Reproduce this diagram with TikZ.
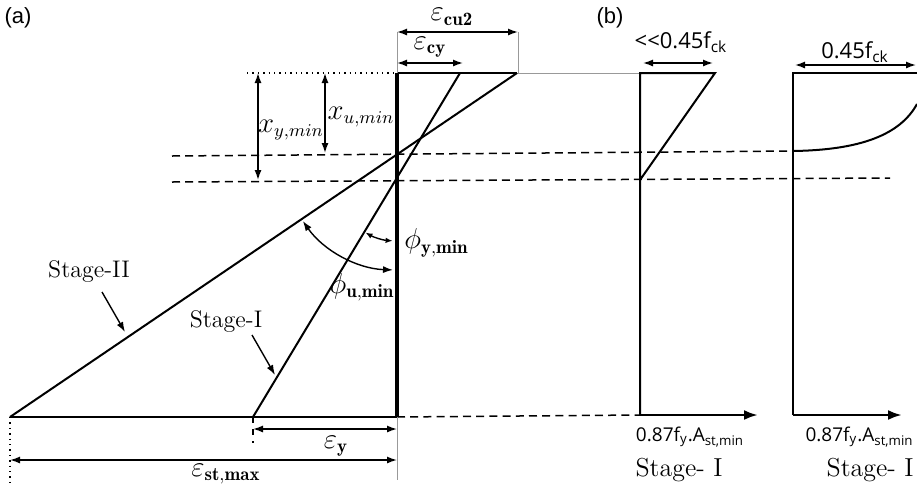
\documentclass[tikz,border=0pt]{standalone}
\usepackage{fontspec}
\newfontfamily\panelfont{Liberation Sans}
\newfontfamily\stressfont{Open Sans}
\usetikzlibrary{arrows.meta}

\begin{document}
\begin{tikzpicture}[
    x=0.5pt, y=0.5pt,
    section line/.style={
        draw=black,
        line width=1.6pt
    },
    strain line/.style={
        draw=black,
        line width=1pt
    },
    stress line/.style={
        draw=black,
        line width=1pt
    },
    dim arrow/.style={
        <->,
        >={Latex[length=5pt,width=3.5pt]},
        line width=0.7pt
    },
    small arrow/.style={
        <->,
        >={Latex[length=3.5pt,width=2.8pt]},
        line width=0.7pt
    },
    pointer/.style={
        ->,
        >={Latex[length=5pt,width=3.5pt]},
        line width=0.7pt
    },
    force arrow/.style={
        ->,
        >={Latex[length=7pt,width=5pt]},
        line width=1.3pt
    },
    extension/.style={
        draw=gray!80,
        line width=0.4pt
    },
    neutral axis/.style={
        dash pattern=on 4pt off 2.6pt,
        line width=0.75pt
    },
    strain label/.style={
        font=\fontsize{13.5}{15}\selectfont,
        inner sep=1pt
    },
    stage label/.style={
        font=\fontsize{12}{14}\selectfont,
        inner sep=1pt
    },
    stress label/.style={
        font=\stressfont\fontsize{11}{13}\selectfont,
        inner sep=1pt
    },
    force label/.style={
        font=\stressfont\fontsize{9.5}{11}\selectfont,
        inner sep=1pt
    },
    panel label/.style={
        font=\panelfont\fontsize{11}{13}\selectfont,
        inner sep=0pt
    }
]

\useasboundingbox (0,-489) rectangle (917,0);

%% --- Section (a): points ---
\coordinate (TopL)  at (247,-73);
\coordinate (T0)    at (397,-73);
\coordinate (B0)    at (397,-417);
\coordinate (TopI)  at (460,-73);
\coordinate (TopII) at (517,-73);
\coordinate (BotI)  at (253,-417);
\coordinate (BotII) at (10,-417);
\coordinate (NAu)   at (397,-155);
\coordinate (NAy)   at (397,-178);

%% --- Section (b): points ---
\coordinate (S1T)  at (640,-73);
\coordinate (S1R)  at (715,-73);
\coordinate (S1NA) at (640,-180);
\coordinate (S1B)  at (640,-415);
\coordinate (S1F)  at (758,-415);
\coordinate (S2T)  at (793,-73);
\coordinate (S2R)  at (917,-73);
\coordinate (S2NA) at (793,-151);
\coordinate (S2C)  at (917,-104);
\coordinate (S2B)  at (793,-415);
\coordinate (S2F)  at (902,-415);

%% --- Neutral axes ---
\coordinate (NAuL) at (172,-156);
\coordinate (NAyL) at (172,-182);
\coordinate (NAyR) at (890,-178);
\draw[neutral axis] (NAuL) -- (S2NA);
\draw[neutral axis] (NAyL) -- (NAyR);
\draw[neutral axis] (B0) -- (S1B);

%% --- Top fibre ---
\draw[dotted, line width=0.7pt] (TopL) -- (T0);
\draw[extension] (TopII) -- (S1R);

%% --- Strain profiles ---
\draw[strain line] (TopII) -- (BotII);
\draw[strain line] (TopI) -- (BotI);
\draw[strain line] (BotII) -- (B0);
\draw[strain line] (T0) -- (TopII);
\draw[section line] (T0) -- (B0);

%% --- Top strain dimensions ---
\coordinate (Ecu) at (518,-73);
\coordinate (EcuL) at (397,-32);
\coordinate (EcuR) at (518,-32);
\coordinate (EcyL) at (397,-63);
\coordinate (EcyR) at (463,-63);
\draw[extension] (EcuL) -- (T0);
\draw[extension] (EcuR) -- (Ecu);
\draw[dim arrow] (EcuL) -- (EcuR);
\draw[dim arrow] (EcyL) -- (EcyR);
\node[strain label] (ecu2) at (452,-17) {$\varepsilon_{\mathbf{cu2}}$};
\node[strain label] (ecy)  at (430,-47) {$\varepsilon_{\mathbf{cy}}$};

%% --- Neutral axis depths ---
\coordinate (XuT) at (325,-73);
\coordinate (XuB) at (325,-153);
\coordinate (XyT) at (258,-73);
\coordinate (XyB) at (258,-180);
\draw[dim arrow] (XuT) -- (XuB);
\draw[dim arrow] (XyT) -- (XyB);
\node[strain label] (xu) at (361,-117) {$x_{u,min}$};
\node[strain label] (xy) at (291,-130) {$x_{y,min}$};

%% --- Curvatures ---
\draw[dim arrow] (NAu) ++(215:115) arc[start angle=215, end angle=268, radius=115];
\draw[small arrow] (NAy) ++(240:63) arc[start angle=240, end angle=266, radius=63];
\node[strain label, anchor=west] (phiy) at (402,-243) {$\phi_{\mathbf{y,min}}$};
\node[strain label] (phiu) at (362,-287) {$\phi_{\mathbf{u,min}}$};

%% --- Stage pointers ---
\node[stage label] (SII) at (89,-272) {Stage-II};
\node[stage label] (SI)  at (226,-322) {Stage-I};
\coordinate (PIIa) at (102,-292);
\coordinate (PIIb) at (125,-332);
\coordinate (PIa)  at (252,-335);
\coordinate (PIb)  at (275,-375);
\draw[pointer] (PIIa) -- (PIIb);
\draw[pointer] (PIa) -- (PIb);

%% --- Bottom strain dimensions ---
\coordinate (ExtII) at (10,-482);
\coordinate (ExtI)  at (253,-443);
\coordinate (Ext0)  at (397,-480);
\draw[dotted, line width=0.7pt] (BotII) -- (ExtII);
\draw[dashed, line width=0.6pt] (BotI) -- (ExtI);
\draw[extension] (B0) -- (Ext0);
\coordinate (EyL)  at (253,-429);
\coordinate (EyR)  at (397,-429);
\coordinate (EstL) at (10,-460);
\coordinate (EstR) at (397,-460);
\draw[dim arrow] (EyL) -- (EyR);
\draw[dim arrow] (EstL) -- (EstR);
\node[strain label] (ey)  at (336,-446) {$\varepsilon_{\mathbf{y}}$};
\node[strain label] (est) at (226,-474) {$\varepsilon_{\mathbf{st,max}}$};

%% --- Stress block, stage I ---
\draw[stress line] (S1B) -- (S1T) -- (S1R) -- (S1NA);
\draw[force arrow] (S1B) -- (S1F);
\coordinate (F1L) at (643,-63);
\coordinate (F1R) at (713,-63);
\draw[dim arrow] (F1L) -- (F1R);
\node[stress label] (f1) at (681,-42) {<<0.45f\textsubscript{ck}};
\node[force label]  (t1) at (690,-437) {0.87f\textsubscript{y}.A\textsubscript{st,min}};
\node[font=\fontsize{13}{15}\selectfont, inner sep=1pt] (st1) at (679,-470) {Stage- I};

%% --- Stress block, second ---
\draw[stress line] (S2B) -- (S2T) -- (S2R);
\draw[stress line] (S2NA) .. controls (860,-150) and (900,-135) .. (S2C);
\draw[force arrow] (S2B) -- (S2F);
\coordinate (F2L) at (795,-65);
\coordinate (F2R) at (916,-65);
\draw[dim arrow] (F2L) -- (F2R);
\node[stress label] (f2) at (855,-52) {0.45f\textsubscript{ck}};
\node[force label, anchor=east] (t2) at (916,-437) {0.87f\textsubscript{y}.A\textsubscript{st,min}};
\node[font=\fontsize{13}{15}\selectfont, inner sep=1pt, anchor=east] (st2) at (916,-470) {Stage- I};

%% --- Panel labels ---
\node[panel label] (pa) at (18,-18) {(a)};
\node[panel label] (pb) at (610,-18) {(b)};

\end{tikzpicture}
\end{document}
